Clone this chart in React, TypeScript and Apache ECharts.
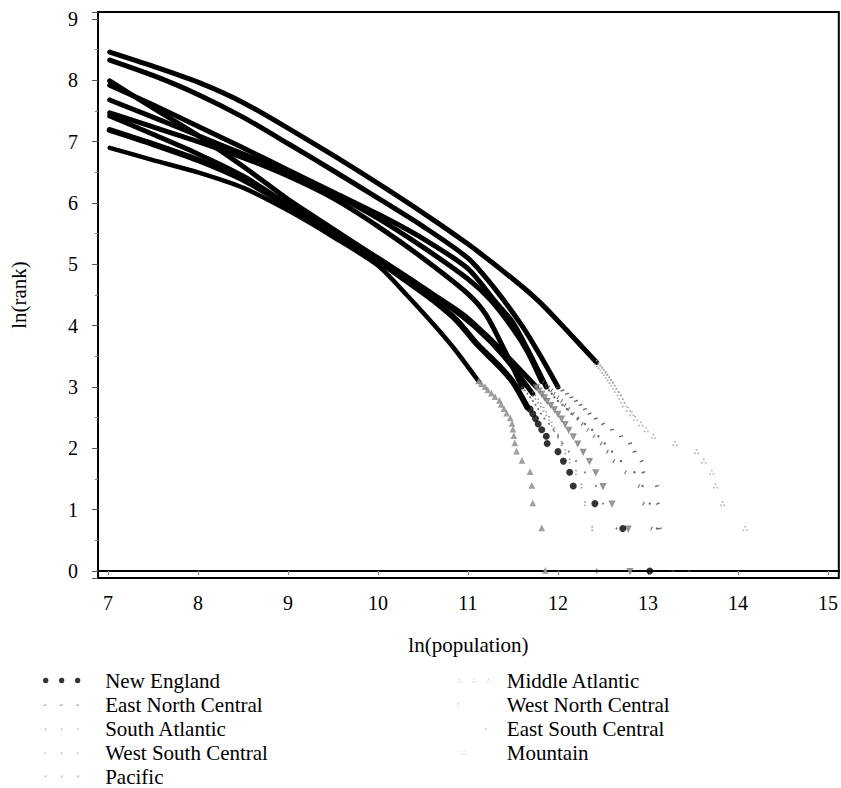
import React, { useEffect, useRef } from "react";
import * as echarts from "echarts";

// ---- Data: [ln(population), ln(rank)] along the dense part of each curve
const newEnglandBody = [[7.02,7.19],[7.5,6.96],[8.0,6.7],[8.5,6.38],[9.0,5.96],[9.5,5.52],[10.0,5.06],[10.3,4.75],[10.61,4.42],[10.88,4.08],[11.1,3.7],[11.36,3.32],[11.5,3.08],[11.66,2.67]];
const eastNorthCentralBody = [[7.02,8.33],[7.5,8.08],[8.0,7.77],[8.5,7.4],[9.0,6.97],[9.5,6.53],[10.0,6.08],[10.5,5.62],[11.0,5.1],[11.3,4.6],[11.6,4.0],[11.8,3.52],[12.0,3.0]];
const southAtlanticBody = [[7.02,7.92],[7.5,7.6],[8.0,7.25],[8.5,6.9],[9.0,6.54],[9.5,6.18],[10.0,5.82],[10.5,5.42],[11.0,4.93],[11.3,4.4],[11.5,4.05],[11.66,3.62],[11.87,3.0]];
const westSouthCentralBody = [[7.02,7.68],[7.5,7.4],[8.0,7.1],[8.5,6.8],[9.0,6.5],[9.5,6.15],[10.0,5.75],[10.5,5.28],[11.0,4.76],[11.25,4.42],[11.5,3.95],[11.66,3.58],[11.82,3.09]];
const pacificBody = [[7.02,7.42],[7.5,7.12],[8.0,6.8],[8.5,6.44],[9.0,5.98],[9.5,5.55],[10.0,5.1],[10.5,4.62],[10.95,4.18],[11.2,3.85],[11.45,3.48],[11.76,3.0]];
const middleAtlanticBody = [[7.02,8.46],[7.5,8.23],[8.0,7.97],[8.5,7.64],[9.0,7.22],[9.5,6.78],[10.0,6.32],[10.5,5.84],[11.0,5.33],[11.5,4.76],[11.8,4.38],[12.1,3.92],[12.43,3.4]];
const westNorthCentralBody = [[7.02,7.99],[7.5,7.55],[8.0,7.1],[8.5,6.6],[9.0,6.06],[9.5,5.58],[10.0,5.1],[10.4,4.72],[10.75,4.36],[11.1,3.95],[11.4,3.5],[11.72,2.89]];
const eastSouthCentralBody = [[7.02,7.47],[7.5,7.24],[8.0,7.0],[8.5,6.74],[9.0,6.44],[9.5,6.08],[10.0,5.62],[10.5,5.1],[11.0,4.52],[11.2,4.18],[11.4,3.62],[11.6,3.0]];
const mountainBody = [[7.02,6.9],[7.5,6.7],[8.0,6.5],[8.5,6.25],[9.0,5.88],[9.5,5.45],[10.0,4.98],[10.32,4.5],[10.6,4.05],[10.85,3.62],[11.12,3.09]];

// ---- Largest places: ln(population) by rank 1, 2, 3, ... (null = beyond the axis)
const newEnglandTail = [13.02,12.72,12.41,12.17,12.13,12.06,12.0,11.88,11.87,11.82,11.78,11.75,11.72,11.69];
const eastNorthCentralTail = [13.28,13.13,13.11,13.1,12.95,12.93,12.85,12.8,12.7,12.6,12.5,12.42,12.35,12.3,12.25,12.2,12.15,12.1,12.05,12.0];
const southAtlanticTail = [13.46,13.1,13.02,12.94,12.85,12.7,12.6,12.52,12.45,12.38,12.3,12.22,12.15,12.1,12.05,12.0,11.96,11.93,11.9,11.87];
const westSouthCentralTail = [null,13.04,12.95,12.9,12.75,12.62,12.55,12.48,12.4,12.33,12.27,12.22,12.17,12.12,12.08,12.04,12.0,11.96,11.93,11.9,11.87,11.84];
const pacificTail = [12.8,12.78,12.6,12.5,12.42,12.35,12.28,12.22,12.17,12.12,12.08,12.04,12.0,11.96,11.92,11.88,11.85,11.82,11.79,11.76];
const middleAtlanticTail = [null,14.08,13.83,13.75,13.71,13.62,13.54,13.3,13.06,12.98,12.92,12.86,12.82,12.78,12.74,12.72,12.7,12.68,12.65,12.63,12.61,12.59,12.57,12.55,12.53,12.51,12.49,12.47,12.45,12.43];
const westNorthCentralTail = [12.43,12.38,12.3,12.26,12.2,12.13,12.08,12.04,12.0,11.96,11.93,11.9,11.87,11.84,11.81,11.78,11.75,11.72];
const eastSouthCentralTail = [null,12.65,12.5,12.42,12.3,12.2,12.12,12.05,12.0,11.95,11.9,11.85,11.81,11.78,11.75,11.72,11.69,11.66,11.63,11.6];
const mountainTail = [11.86,11.82,11.72,11.71,11.69,11.6,11.54,11.52,11.51,11.5,11.49,11.47,11.43,11.4,11.37,11.35,11.3,11.26,11.22,11.19,11.15,11.12];

const leftLegend = ["New England", "East North Central", "South Atlantic", "West South Central", "Pacific"];
const rightLegend = ["Middle Atlantic", "West North Central", "East South Central", "Mountain"];

const FONT = '"Liberation Serif", "Times New Roman", Times, serif';

// ---- legend glyph helpers (32 x 6 frame)
const frame = "M0,0M32,6";
const circ = (cx: number, cy: number, r: number) =>
  `M${cx - r},${cy}a${r},${r} 0 1,0 ${2 * r},0a${r},${r} 0 1,0 ${-2 * r},0z`;
const sq = (x: number, y: number, s: number) => `M${x},${y}h${s}v${s}h${-s}z`;
const therefore = (x: number) => sq(x + 1.1, 1.4, 0.9) + sq(x, 3.6, 0.9) + sq(x + 2.2, 3.6, 0.9);
const vee = (x: number) => `M${x},2h0.8l0.8,1.4l0.8,-1.4h0.8l-1.6,2.6z`;
const slash = (x: number) => `M${x},4.4l1,-2l0.6,0.3l-1,2z`;
const dash = (x: number) => `M${x},3.4l2.4,-0.7v0.8l-2.4,0.7z`;

const styles: Record<string, any> = {
  "New England": { symbol: "circle", size: 7, color: "#000", icon: frame + circ(2.3, 3, 2.3) + circ(16, 3, 2.3) + circ(29.7, 3, 2.3), iconColor: "#000", width: 6 },
  "East North Central": { symbol: "rect", size: [4, 1.4], rotate: 20, color: "#444", icon: frame + dash(0.5) + dash(14.5) + dash(28.5), iconColor: "#666", width: 5 },
  "South Atlantic": { symbol: "circle", size: 2.4, color: "#444", icon: frame + sq(1.5, 3, 1) + sq(15.5, 3, 1) + sq(29.5, 3, 1), iconColor: "#777", width: 5 },
  "West South Central": { symbol: "rect", size: [1.2, 4], rotate: -30, color: "#555", icon: frame + slash(1) + slash(15) + slash(29), iconColor: "#999", width: 5 },
  "Pacific": { symbol: "emptyTriangle", size: 4, rotate: 180, color: "#777", icon: frame + vee(0.5) + vee(14.5) + vee(28.5), iconColor: "#aaa", width: 5 },
  "Middle Atlantic": { symbol: "path://" + sq(1.2, 0, 1.1) + sq(0, 2.4, 1.1) + sq(2.4, 2.4, 1.1), size: 5, color: "#999", icon: frame + therefore(0.5) + therefore(14) + therefore(27.5), iconColor: "#aaa", width: 5 },
  "West North Central": { symbol: "path://" + sq(0, 0, 1.1) + sq(0, 2.8, 1.1), size: [1.6, 5], color: "#777", icon: frame + sq(1, 1.4, 0.9) + sq(1, 3.8, 0.9), iconColor: "#999", width: 5 },
  "East South Central": { symbol: "circle", size: 2, color: "#555", icon: frame + sq(26, 2.8, 1.1), iconColor: "#777", width: 5 },
  "Mountain": { symbol: "emptyTriangle", size: 3.5, color: "#888", icon: frame + sq(0.5, 1.8, 0.8) + therefore(5), iconColor: "#aaa", width: 4.5 },
};

const bodies: Record<string, number[][]> = {
  "New England": newEnglandBody,
  "East North Central": eastNorthCentralBody,
  "South Atlantic": southAtlanticBody,
  "West South Central": westSouthCentralBody,
  "Pacific": pacificBody,
  "Middle Atlantic": middleAtlanticBody,
  "West North Central": westNorthCentralBody,
  "East South Central": eastSouthCentralBody,
  "Mountain": mountainBody,
};
const tails: Record<string, (number | null)[]> = {
  "New England": newEnglandTail,
  "East North Central": eastNorthCentralTail,
  "South Atlantic": southAtlanticTail,
  "West South Central": westSouthCentralTail,
  "Pacific": pacificTail,
  "Middle Atlantic": middleAtlanticTail,
  "West North Central": westNorthCentralTail,
  "East South Central": eastSouthCentralTail,
  "Mountain": mountainTail,
};

const allNames = [...leftLegend, ...rightLegend];

function buildOption() {
  const scatterSeries = allNames.map((n) => {
    const s = styles[n];
    const pts = tails[n]
      .map((v, i) => (v == null ? null : [v, Math.log(i + 1)]))
      .filter((p) => p !== null);
    return {
      name: n,
      type: "scatter",
      data: pts,
      symbol: s.symbol,
      symbolSize: s.size,
      symbolRotate: s.rotate || 0,
      itemStyle: { color: s.color, borderWidth: s.symbol.startsWith("empty") ? 0.8 : 0 },
      z: n === "New England" ? 4 : 3,
      silent: true,
      clip: true,
    };
  });
  const lineSeries = allNames.map((n) => ({
    name: n,
    type: "line",
    data: bodies[n],
    symbol: "none",
    showSymbol: false,
    smooth: 0.25,
    lineStyle: { color: "#000", width: styles[n].width, join: "round", cap: "round" },
    z: 2,
    silent: true,
    clip: true,
  }));

  const legendData = (names: string[]) =>
    names.map((n) => ({
      name: n,
      icon: "path://" + styles[n].icon,
      itemStyle: { color: styles[n].iconColor, borderWidth: 0 },
    }));

  const legendText = { fontFamily: FONT, fontSize: 21, color: "#000", lineHeight: 20 };

  return {
    animation: false,
    backgroundColor: "#fff",
    grid: { left: 98, right: 2, top: 12, bottom: 210, show: true, borderColor: "#000", borderWidth: 2, containLabel: false },
    xAxis: {
      type: "value",
      min: 6.89,
      max: 15.12,
      splitNumber: 8,
      name: "ln(population)",
      nameLocation: "middle",
      nameGap: 56,
      nameTextStyle: { fontFamily: FONT, fontSize: 21, color: "#000" },
      axisLine: { show: true, lineStyle: { color: "#000", width: 2 } },
      axisTick: { show: true, length: 4, lineStyle: { color: "#888", width: 1 } },
      axisLabel: {
        showMinLabel: false,
        showMaxLabel: false,
        margin: 15,
        fontFamily: FONT,
        fontSize: 20,
        color: "#000",
        formatter: (v: number) => (Math.abs(v - Math.round(v)) < 1e-6 ? String(Math.round(v)) : ""),
      },
      splitLine: { show: false },
    },
    yAxis: {
      type: "value",
      min: -0.114,
      max: 9.114,
      splitNumber: 9,
      name: "ln(rank)",
      nameLocation: "middle",
      nameRotate: 90,
      nameGap: 69,
      nameTextStyle: { fontFamily: FONT, fontSize: 21, color: "#000" },
      axisLine: { show: true, lineStyle: { color: "#000", width: 2 } },
      axisTick: { show: true, length: 6, lineStyle: { color: "#555", width: 1 } },
      minorTick: { show: true, splitNumber: 2, length: 3, lineStyle: { color: "#777", width: 1 } },
      axisLabel: {
        showMinLabel: false,
        showMaxLabel: false,
        margin: 20,
        fontFamily: FONT,
        fontSize: 20,
        color: "#000",
        formatter: (v: number) => (Math.abs(v - Math.round(v)) < 1e-6 ? String(Math.round(v)) : ""),
      },
      splitLine: { show: false },
    },
    legend: [
      {
        orient: "vertical",
        left: 43,
        top: 670,
        height: 140,
        padding: 0,
        itemWidth: 77,
        itemHeight: 7,
        itemGap: 3,
        selectedMode: false,
        symbolKeepAspect: true,
        textStyle: legendText,
        data: legendData(leftLegend),
      },
      {
        orient: "vertical",
        left: 457,
        top: 670,
        height: 140,
        padding: 0,
        itemWidth: 55,
        itemHeight: 6.5,
        itemGap: 3,
        selectedMode: false,
        symbolKeepAspect: true,
        textStyle: legendText,
        data: legendData(rightLegend),
      },
    ],
    series: [...scatterSeries, ...lineSeries],
  };
}

export default function App() {
  const ref = useRef<HTMLDivElement>(null);
  useEffect(() => {
    if (!ref.current) return;
    const chart = echarts.init(ref.current, null, { renderer: "svg" });
    chart.setOption(buildOption() as any);
    return () => {
      chart.dispose();
    };
  }, []);
  return (
    <div
      ref={ref}
      style={{ position: "fixed", left: 0, top: 0, width: 841, height: 788, background: "#fff" }}
    />
  );
}
